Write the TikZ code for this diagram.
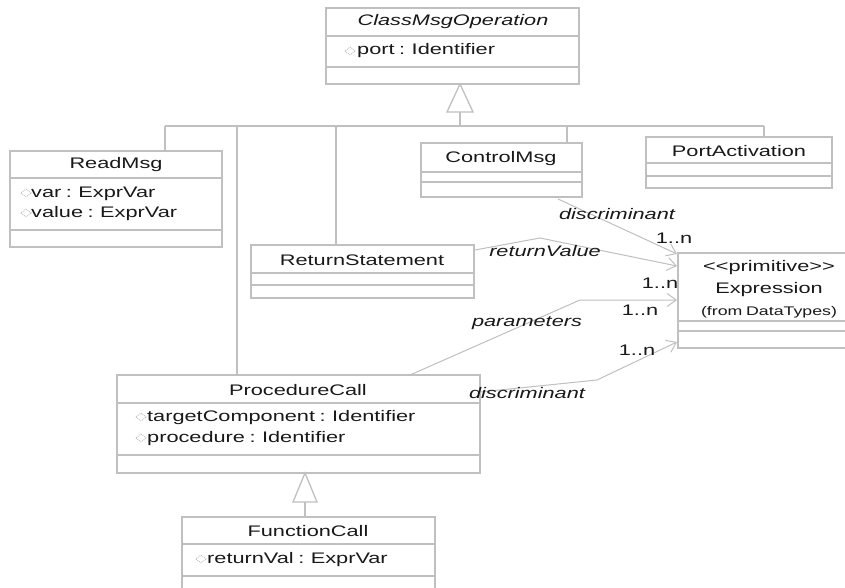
\documentclass[tikz,border=0pt]{standalone}
\usepackage{fontspec}
\setmainfont{Liberation Sans}[FakeStretch=1.42, WordSpace=0.75]
\usetikzlibrary{arrows.meta,calc,shapes.geometric}
\definecolor{lg}{RGB}{192,192,192}
\definecolor{tx}{RGB}{25,25,25}
\begin{document}
\begin{tikzpicture}[x=1pt,y=-1pt, font=\fontsize{15.3}{18}\selectfont, text=tx,
  box/.style={draw=lg, line width=1.3pt, rectangle, anchor=north west, inner sep=0pt, outer sep=0pt},
  sepline/.style={draw=lg, line width=1.3pt},
  gen/.style={draw=lg, line width=1.3pt},
  assoc/.style={draw=lg, line width=1pt, -{Straight Barb[length=9pt,width=13pt]}},
  ttl/.style={inner sep=0pt, anchor=center},
  attr/.style={inner sep=0pt, anchor=west, text height=11pt, text depth=3pt},
  lbl/.style={inner sep=0pt, font=\fontsize{15.3}{18}\selectfont\itshape},
  mult/.style={inner sep=0pt},
  icon/.style={shape=diamond, draw=lg, densely dotted, line width=0.9pt, minimum width=11pt, minimum height=8pt, inner sep=0pt}
]
\clip (0,0) rectangle (845,588);
\fill[white] (0,0) rectangle (845,588);

% ClassMsgOperation
\node[box, minimum width=253pt, minimum height=76pt] (cmo) at (326,8) {};
\draw[sepline] (326,36) -- (579,36);
\draw[sepline] (326,67) -- (579,67);
\node[ttl, font=\fontsize{15.3}{18}\selectfont\itshape] (cmot) at (453,22) {ClassMsgOperation};
\node[icon] (i1) at (350,51) {};
\node[attr] (cmoa) at (357,51) {port : Identifier};

% ReadMsg
\node[box, minimum width=212pt, minimum height=96pt] (readmsg) at (10,151) {};
\draw[sepline] (10,178) -- (222,178);
\draw[sepline] (10,230) -- (222,230);
\node[ttl] (readmsgt) at (116,165) {ReadMsg};
\node[icon] (i2) at (26,193) {};
\node[attr] (rma1) at (31,193) {var : ExprVar};
\node[icon] (i3) at (26,213) {};
\node[attr] (rma2) at (31,213) {value : ExprVar};

% ControlMsg
\node[box, minimum width=161pt, minimum height=54pt] (controlmsg) at (421,143) {};
\draw[sepline] (421,172) -- (582,172);
\draw[sepline] (421,182) -- (582,182);
\node[ttl] (controlmsgt) at (501,159) {ControlMsg};

% PortActivation
\node[box, minimum width=186pt, minimum height=51pt] (portact) at (646,137) {};
\draw[sepline] (646,163) -- (832,163);
\draw[sepline] (646,176) -- (832,176);
\node[ttl] (portactt) at (739,151) {PortActivation};

% ReturnStatement
\node[box, minimum width=223pt, minimum height=53pt] (retstmt) at (251,245) {};
\draw[sepline] (251,273) -- (474,273);
\draw[sepline] (251,285) -- (474,285);
\node[ttl] (retstmtt) at (362,260) {ReturnStatement};

% Expression
\node[box, minimum width=190pt, minimum height=95pt] (expr) at (678,253) {};
\draw[sepline] (678,321) -- (868,321);
\draw[sepline] (678,331) -- (868,331);
\node[ttl] (exprs) at (769,268) {{<}{<}primitive{>}{>}};
\node[ttl] (exprt) at (769,290) {Expression};
\node[ttl, font=\fontsize{12.5}{15}\selectfont] (exprf) at (769,312) {(from DataTypes)};

% ProcedureCall
\node[box, minimum width=363pt, minimum height=98pt] (proccall) at (117,375) {};
\draw[sepline] (117,403) -- (480,403);
\draw[sepline] (117,455) -- (480,455);
\node[ttl] (proccallt) at (298,390) {ProcedureCall};
\node[icon] (i4) at (141,417) {};
\node[attr] (pca1) at (147,417) {targetComponent : Identifier};
\node[icon] (i5) at (141,438) {};
\node[attr] (pca2) at (147,438) {procedure : Identifier};

% FunctionCall
\node[box, minimum width=253pt, minimum height=90pt] (funccall) at (182,517) {};
\draw[sepline] (182,544) -- (435,544);
\draw[sepline] (182,576) -- (435,576);
\node[ttl] (funccallt) at (308,531) {FunctionCall};
\node[icon] (i6) at (201,559) {};
\node[attr] (fca1) at (207,559) {returnVal : ExprVar};

% Generalization to ClassMsgOperation
\coordinate (tip1) at (460,84);
\coordinate (base1) at (460,112);
\coordinate (hub) at (460,126);
\draw[gen, fill=white] (tip1) -- (473,112) -- (447,112) -- cycle;
\draw[gen] (base1) -- (hub);
\coordinate (vR) at (165,126);
\coordinate (vP) at (237,126);
\coordinate (vS) at (336,126);
\coordinate (vC) at (567,126);
\coordinate (vA) at (764,126);
\draw[gen] (vR) -- (vA);
\draw[gen] (vR) -- (vR |- readmsg.north);
\draw[gen] (vP) -- (vP |- proccall.north);
\draw[gen] (vS) -- (vS |- retstmt.north);
\draw[gen] (vC) -- (vC |- controlmsg.north);
\draw[gen] (vA) -- (vA |- portact.north);

% Generalization FunctionCall -> ProcedureCall
\coordinate (tip2) at (305,473);
\coordinate (base2) at (305,502);
\draw[gen, fill=white] (tip2) -- (317,502) -- (293,502) -- cycle;
\draw[gen] (base2) -- (base2 |- funccall.north);

% Associations
\draw[assoc] ($(controlmsg.south west)+(137,2)$) -- ($(expr.north west)+(-1,1)$);
\node[lbl] (l1) at (617,214) {discriminant};
\node[mult] (m1) at (674,238) {1..n};

\draw[assoc] ($(retstmt.north east)+(1,5)$) -- (540,238) -- ($(expr.north west)+(-1,13)$);
\node[lbl] (l2) at (545,251) {returnValue};
\node[mult] (m2) at (660,283) {1..n};

\draw[assoc] ($(proccall.north west)+(293,0)$) -- (580,300) -- ($(expr.north west)+(-1,47)$);
\node[lbl] (l3) at (527,323) {parameters};
\node[mult] (m3) at (640,310) {1..n};

\draw[assoc] ($(proccall.north east)+(0,17)$) -- (597,380) -- ($(expr.north west)+(-1,89)$);
\node[lbl] (l4) at (527,393) {discriminant};
\node[mult] (m4) at (637,350) {1..n};
\end{tikzpicture}
\end{document}
